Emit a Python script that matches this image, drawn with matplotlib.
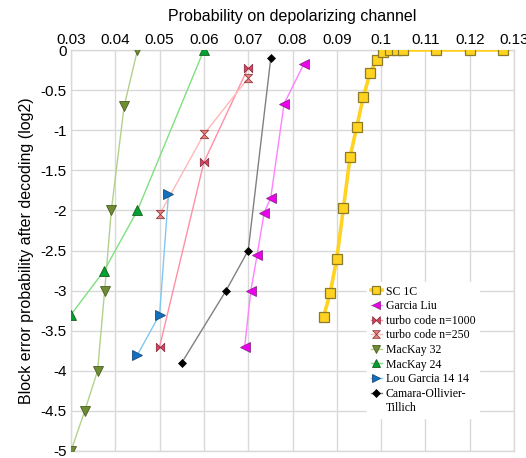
import matplotlib
matplotlib.use("Agg")
import matplotlib.pyplot as plt
from matplotlib.path import Path
from matplotlib.lines import Line2D
import numpy as np

# ---- data ----
sc1c_x = [0.087, 0.0885, 0.09, 0.0915, 0.093, 0.0945, 0.096, 0.0975, 0.099, 0.1005,
          0.102, 0.1035, 0.105, 0.1125, 0.12, 0.1275]
sc1c_y = [-3.33, -3.03, -2.60, -1.97, -1.33, -0.96, -0.58, -0.29, -0.12, -0.03,
          -0.005, 0.0, 0.0, 0.0, 0.0, 0.0]

garcia_x = [0.0692, 0.0706, 0.072, 0.0736, 0.0751, 0.0781, 0.0826]
garcia_y = [-3.70, -3.0, -2.56, -2.03, -1.84, -0.67, -0.17]

turbo1000_x = [0.05, 0.06, 0.07]
turbo1000_y = [-3.70, -1.40, -0.22]

turbo250_x = [0.05, 0.06, 0.07]
turbo250_y = [-2.05, -1.05, -0.35]

mackay32_x = [0.03, 0.0331, 0.036, 0.0376, 0.0391, 0.042, 0.045]
mackay32_y = [-5.0, -4.5, -4.0, -3.0, -2.0, -0.7, 0.0]

mackay24_x = [0.03, 0.0375, 0.045, 0.06]
mackay24_y = [-3.3, -2.75, -2.0, 0.0]

lou_x = [0.045, 0.05, 0.052]
lou_y = [-3.8, -3.3, -1.8]

camara_x = [0.055, 0.065, 0.07, 0.0751]
camara_y = [-3.9, -3.0, -2.5, -0.1]

xticks = [0.03, 0.04, 0.05, 0.06, 0.07, 0.08, 0.09, 0.1, 0.11, 0.12, 0.13]
xticklabels = ["0.03", "0.04", "0.05", "0.06", "0.07", "0.08", "0.09", "0.1", "0.11", "0.12", "0.13"]
yticks = [0, -0.5, -1, -1.5, -2, -2.5, -3, -3.5, -4, -4.5, -5]
yticklabels = ["0", "-0.5", "-1", "-1.5", "-2", "-2.5", "-3", "-3.5", "-4", "-4.5", "-5"]

# ---- custom markers ----
bowtie = Path([(-1, -1), (1, 1), (1, -1), (-1, 1), (-1, -1)],
              [Path.MOVETO, Path.LINETO, Path.LINETO, Path.LINETO, Path.CLOSEPOLY])
hourglass = Path([(-1, -1), (1, -1), (-1, 1), (1, 1), (-1, -1)],
                 [Path.MOVETO, Path.LINETO, Path.LINETO, Path.LINETO, Path.CLOSEPOLY])

plt.rcParams['font.family'] = ['Liberation Sans', 'DejaVu Sans']

fig = plt.figure(figsize=(5.26, 4.58), dpi=100)
ax = fig.add_axes([71 / 526, 1 - 451 / 458, (514 - 71) / 526, (451 - 50) / 458])

ax.plot(sc1c_x, sc1c_y, color="#FFD320", lw=2.6, marker="s", ms=7.5,
        mfc="#FFD320", mec="#8A7A2A", mew=0.9, label="SC 1C", zorder=3)
ax.plot(garcia_x, garcia_y, color="#FF80FF", lw=1.0, marker="<", ms=6.5,
        mfc="#EE00EE", mec="#8A2A8A", mew=0.6, label="Garcia Liu", zorder=3)
ax.plot(turbo1000_x, turbo1000_y, color="#FF8FA8", lw=1.0, marker=bowtie, ms=6,
        mfc="#E0405E", mec="#8A3040", mew=0.6, label="turbo code n=1000", zorder=3)
ax.plot(turbo250_x, turbo250_y, color="#FFB8B8", lw=1.0, marker=hourglass, ms=6,
        mfc="#F28080", mec="#8A4040", mew=0.6, label="turbo code n=250", zorder=3)
ax.plot(mackay32_x, mackay32_y, color="#B4D08C", lw=1.0, marker="v", ms=6.5,
        mfc="#6E8C30", mec="#4A5E22", mew=0.6, label="MacKay 32", zorder=3)
ax.plot(mackay24_x, mackay24_y, color="#7FE07F", lw=1.0, marker="^", ms=6.5,
        mfc="#00A033", mec="#1E5E1E", mew=0.6, label="MacKay 24", zorder=3)
ax.plot(lou_x, lou_y, color="#80C8F0", lw=1.0, marker=">", ms=6.5,
        mfc="#1270C0", mec="#1A4A7A", mew=0.6, label="Lou Garcia 14 14", zorder=3)
ax.plot(camara_x, camara_y, color="#808080", lw=1.0, marker="D", ms=4.5,
        mfc="#000000", mec="#000000", mew=0.5, label="Camara-Ollivier-", zorder=3)

ax.set_xlim(0.03, 0.13)
ax.set_ylim(-5, 0)
ax.xaxis.tick_top()
ax.xaxis.set_label_position("top")
ax.set_xticks(xticks)
ax.set_xticklabels(xticklabels)
ax.set_yticks(yticks)
ax.set_yticklabels(yticklabels)
ax.tick_params(axis="both", length=0, labelsize=11, pad=3, colors="#000000")
ax.tick_params(axis="x", pad=2)
ax.grid(True, color="#D9D9D9", lw=1.0)
ax.set_axisbelow(True)
for s in ax.spines.values():
    s.set_color("#D9D9D9")
    s.set_linewidth(1.0)
    s.set_clip_on(False)
ax.set_xlabel("Probability on depolarizing channel", fontsize=11.5, labelpad=9)
ax.set_ylabel("Block error probability after decoding (log2)", fontsize=11.5, labelpad=5)

handles, labels = ax.get_legend_handles_labels()
handles.append(Line2D([], [], color="none"))
labels.append("Tillich")

leg = ax.legend(handles, labels, loc="upper left",
                bbox_to_anchor=((367 - 71) / 443, (451 - 282) / 401),
                frameon=True, fancybox=False, framealpha=1.0, edgecolor="white",
                facecolor="white", borderpad=0.3, handlelength=1.0, handletextpad=0.3,
                labelspacing=0.22, borderaxespad=0.0,
                prop={"family": ["Liberation Serif"], "size": 8.5})
sizes = [6, 5.5, 5.5, 5.5, 5.5, 5.5, 5.5, 4]
for h, s in zip(leg.legend_handles, sizes):
    h.set_markersize(s)

fig.savefig("out.png", dpi=100)
